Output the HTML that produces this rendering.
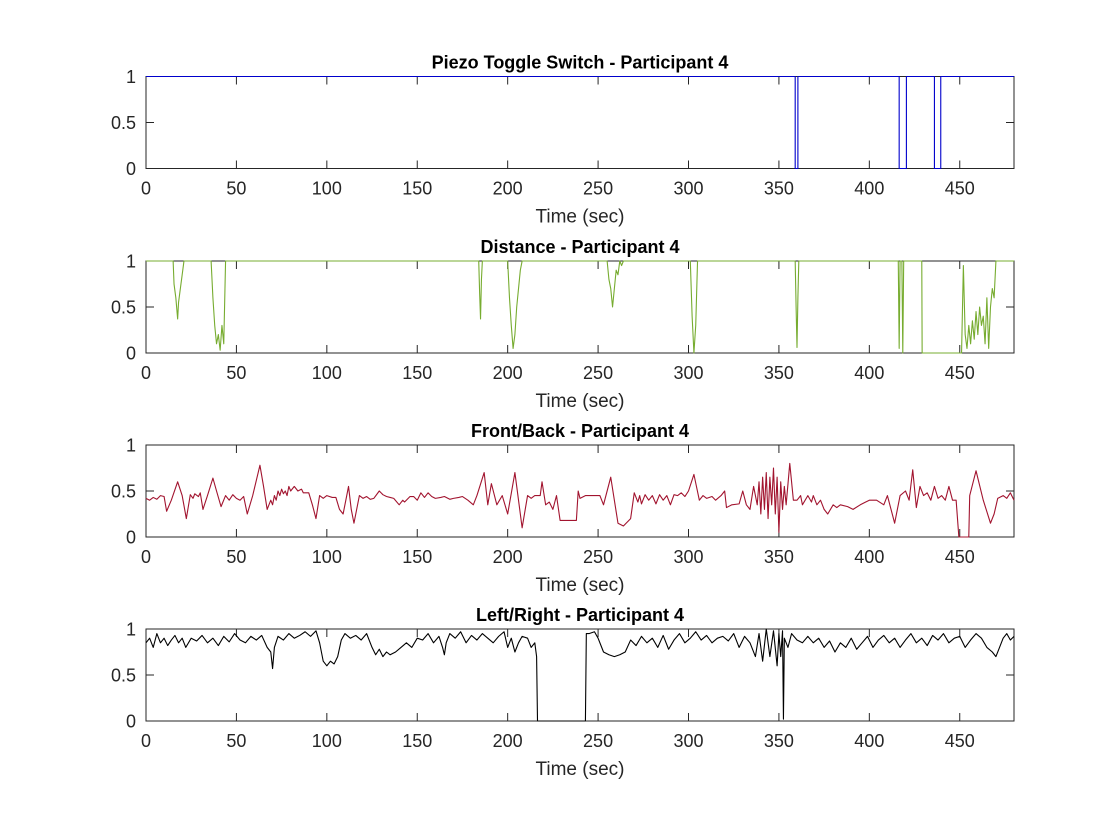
<!DOCTYPE html>
<html><head><meta charset="utf-8">
<style>
html,body{margin:0;padding:0;background:#fff;}
svg{display:block;font-family:"Liberation Sans",Arial,sans-serif;}
</style></head>
<body>
<svg id="fig" width="1120" height="840" viewBox="0 0 1120 840" xmlns="http://www.w3.org/2000/svg"></svg>
<script>
// ---- data ----
const xTicks = [0,50,100,150,200,250,300,350,400,450];
const yTicks = [0,0.5,1];
const titles = ["Piezo Toggle Switch - Participant 4","Distance - Participant 4","Front/Back - Participant 4","Left/Right - Participant 4"];
const colors = ["#0000cc","#77ac30","#a2142f","#000000"];

const piezoPts = [[0,1],[359,1],[359,0],[360.5,0],[360.5,1],[416.5,1],[416.5,0],[420.5,0],[420.5,1],[436,1],[436,0],[439.5,0],[439.5,1],[480,1]];

const distPts = [[0,1],[15,1],[15.5,0.75],[16.5,0.6],[17.5,0.37],[18,0.55],[19,0.7],[20,0.85],[21,1],
[36,1],[37,0.6],[38,0.3],[39,0.1],[40,0.2],[41,0.03],[42,0.3],[43,0.1],[44,1],
[184,1],[184.5,0.65],[185,0.37],[185.5,0.8],[186,1],
[200,1],[201,0.6],[202,0.3],[203,0.05],[204,0.2],[205,0.5],[206,0.7],[207,0.9],[208,1],
[255,1],[256,0.8],[257,0.7],[258,0.5],[259,0.7],[260,0.9],[261,0.85],[262,1],[263,0.95],[264,1],
[301,1],[302,0.4],[303,0],[304,0.3],[305,1],
[359,1],[359.5,0.5],[360,0.06],[360.5,0.6],[361,1],
[416,1],[416.5,0.05],[417,1],[418,1],[418.5,0],[419,1],[429,1],[429.2,0],[451,0],
[452,0.95],[453,0.2],[454,0.05],[455,0.3],[456,0.1],[457,0.35],[458,0.15],[459,0.45],[460,0.2],[461,0.5],[462,0.3],[463,0.4],[464,0.1],[465,0.6],[466,0.05],[467,0.5],[468,0.7],[469,0.6],[470,1],[480,1]];

const fbPts = [[0,0.42],[2,0.40],[4,0.43],[6,0.41],[8,0.45],[10,0.44],[11.4,0.28],[14,0.40],[17.5,0.60],[20,0.45],[22.3,0.20],[24.5,0.46],[26,0.42],[27,0.47],[29,0.44],[30,0.48],[31.5,0.30],[34,0.45],[37,0.64],[39,0.50],[41.5,0.33],[44,0.45],[46,0.40],[48,0.46],[50,0.42],[52,0.40],[54,0.44],[56,0.25],[59,0.45],[63,0.78],[65,0.55],[67,0.30],[69,0.40],[70,0.35],[71,0.45],[72,0.40],[73,0.50],[74,0.45],[75,0.52],[76,0.47],[77,0.50],[78,0.45],[79,0.55],[80,0.50],[82,0.55],[84,0.50],[86,0.52],[87,0.48],[90,0.48],[92,0.35],[94,0.20],[96,0.45],[98,0.42],[100,0.45],[103,0.43],[105,0.43],[107,0.30],[109,0.25],[111,0.45],[112,0.55],[113.5,0.30],[115,0.15],[118,0.45],[120,0.42],[122,0.44],[124,0.41],[126,0.42],[129,0.50],[131,0.46],[133,0.44],[135,0.43],[137,0.42],[140,0.35],[142,0.40],[143,0.38],[146,0.44],[148,0.44],[150,0.40],[152,0.48],[154,0.43],[156,0.48],[158,0.44],[160,0.42],[163,0.43],[165,0.44],[168,0.41],[170,0.42],[173,0.43],[175,0.44],[178,0.40],[181,0.35],[183,0.45],[187,0.70],[189,0.35],[191,0.58],[194,0.35],[197,0.45],[200,0.25],[204,0.70],[208,0.10],[211,0.45],[213,0.42],[215,0.45],[218,0.45],[219,0.60],[221,0.35],[223,0.38],[225,0.30],[227,0.45],[229,0.18],[233,0.18],[238,0.18],[239,0.50],[240,0.42],[243,0.45],[246,0.45],[249,0.45],[251,0.45],[253,0.35],[257,0.65],[261,0.15],[264,0.12],[268,0.20],[270,0.48],[272,0.38],[273,0.45],[274,0.36],[276,0.46],[278,0.40],[280,0.45],[282,0.36],[284,0.46],[286,0.40],[288,0.45],[290,0.35],[292,0.46],[294,0.45],[296,0.48],[298,0.44],[300,0.50],[303,0.68],[306,0.40],[308,0.45],[310,0.42],[313,0.44],[315,0.40],[318,0.45],[320,0.50],[321,0.32],[324,0.35],[328,0.36],[330,0.50],[332,0.35],[334,0.30],[336,0.55],[338,0.35],[339,0.60],[340,0.25],[341,0.65],[342,0.30],[343,0.70],[344,0.20],[345,0.65],[346,0.35],[347,0.75],[348,0.25],[349,0.65],[350,0.05],[351,0.60],[352,0.30],[353,0.55],[354,0.35],[356,0.80],[358,0.40],[360,0.40],[362,0.45],[363,0.35],[366,0.45],[368,0.38],[369,0.45],[371,0.35],[373,0.40],[375,0.30],[377,0.25],[380,0.35],[382,0.32],[384,0.35],[388,0.33],[391,0.30],[395,0.35],[398,0.38],[400,0.40],[404,0.40],[408,0.35],[410,0.45],[412,0.30],[414,0.15],[417,0.45],[420,0.50],[422,0.40],[424,0.73],[426,0.32],[428,0.55],[430,0.45],[432,0.48],[434,0.40],[436,0.55],[438,0.42],[440,0.45],[442,0.40],[444,0.55],[446,0.40],[448,0.40],[449.5,0],[455,0],[455.5,0.45],[459,0.72],[463,0.40],[467,0.15],[469,0.25],[471,0.42],[474,0.45],[476,0.42],[478,0.48],[480,0.40]];

const lrT = [0,2,4,6,8,10,12,14,16,18,20,22,25,28,31,34,37,40,43,46,49,52,55,58,61,64,67,69,70,71,73,76,79,82,85,88,91,94,96,98,100,102,104,106,108,110,113,116,119,122,125,127,129,131,133,135,138,141,144,147,150,153,156,159,162,164,165,166,168,171,174,177,180,183,186,189,192,195,198,200,202,204,206,208,211,213,215,216,216.5,243,243.5,245,248,250,253,256,259,262,265,268,271,274,277,280,283,286,289,292,295,298,301,304,307,310,313,316,319,322,325,328,331,334,337,339,341,343,345,347,349,350,351,352,352.5,353,355,357,360,363,366,369,372,375,378,381,384,387,390,393,396,399,402,405,408,411,414,417,420,423,426,429,432,435,438,441,444,447,450,453,456,459,462,465,468,470,472,474,476,478,480];
const lrV = [0.85,0.9,0.8,0.95,0.85,0.9,0.82,0.88,0.93,0.85,0.9,0.8,0.9,0.87,0.93,0.85,0.9,0.82,0.92,0.86,0.95,0.88,0.85,0.92,0.88,0.93,0.8,0.75,0.57,0.8,0.92,0.88,0.95,0.9,0.93,0.97,0.92,0.98,0.85,0.65,0.6,0.65,0.62,0.7,0.88,0.95,0.9,0.93,0.88,0.95,0.8,0.72,0.78,0.7,0.75,0.72,0.75,0.8,0.85,0.8,0.9,0.88,0.95,0.85,0.92,0.8,0.72,0.85,0.95,0.9,0.97,0.85,0.93,0.88,0.95,0.9,0.85,0.92,0.97,0.8,0.9,0.75,0.85,0.92,0.9,0.8,0.85,0.7,0,0,0.95,0.95,0.97,0.9,0.75,0.72,0.7,0.72,0.75,0.88,0.82,0.92,0.85,0.9,0.8,0.93,0.78,0.88,0.95,0.85,0.9,0.97,0.88,0.93,0.85,0.9,0.92,0.87,0.95,0.8,0.92,0.85,0.7,0.95,0.65,1,0.7,0.98,0.6,0.95,0.7,0.98,0.02,0.9,0.8,0.95,0.88,0.85,0.92,0.85,0.9,0.8,0.87,0.75,0.85,0.8,0.9,0.78,0.85,0.92,0.8,0.88,0.93,0.85,0.9,0.8,0.88,0.95,0.85,0.9,0.82,0.93,0.88,0.95,0.85,0.9,0.92,0.8,0.88,0.95,0.9,0.8,0.75,0.7,0.8,0.9,0.95,0.88,0.92];

const lrPts = lrT.map((t,k) => [t, lrV[k]]);
const seriesPts = [piezoPts, distPts, fbPts, lrPts];

// ---- drawing ----
const NS = "http://www.w3.org/2000/svg";
const svg = document.getElementById('fig');
const L = 146, R = 1014;
const tops = [76.5, 261, 445, 629];
const H = 92;
function mk(tag, attrs, parent){
  const e = document.createElementNS(NS, tag);
  for (const k in attrs) e.setAttribute(k, attrs[k]);
  (parent||svg).appendChild(e);
  return e;
}
function xs(t){ return L + (t/480)*(R-L); }
for (let i=0;i<4;i++){
  const top = tops[i], bot = top + H;
  const ys = v => bot - v*H;
  const g = mk('g', {});
  
  
  const box = mk('rect', {x:L, y:top, width:R-L, height:H, fill:'none', stroke:'#262626', 'stroke-width':1}, g);
  
  
  xTicks.forEach(t => {
    const x = xs(t);
    mk('line', {x1:x, x2:x, y1:bot, y2:bot-8, stroke:'#262626'}, g);
    mk('line', {x1:x, x2:x, y1:top, y2:top+8, stroke:'#262626'}, g);
    const tx = mk('text', {x:x, y:bot+26, 'font-size':18, 'text-anchor':'middle', fill:'#262626'}, g);
    tx.textContent = t;
    
    
  });
  yTicks.forEach(v => {
    const y = ys(v);
    mk('line', {x1:L, x2:L+8, y1:y, y2:y, stroke:'#262626'}, g);
    mk('line', {x1:R, x2:R-8, y1:y, y2:y, stroke:'#262626'}, g);
    const tx = mk('text', {x:L-10, y:y+6.5, 'font-size':18, 'text-anchor':'end', fill:'#262626'}, g);
    tx.textContent = v;
    
    
  });
  let d = '';
  const P = seriesPts[i];
  for (let k=0;k<P.length;k++) d += (k?'L':'M') + xs(P[k][0]).toFixed(2) + ' ' + ys(P[k][1]).toFixed(2);
  const p = mk('path', {d:d, fill:'none', stroke:colors[i], 'stroke-width':1.1, 'stroke-linejoin':'round'}, g);
  
  
  const xl = mk('text', {x:580, y:bot+54, 'font-size':19, 'text-anchor':'middle', fill:'#262626'}, g);
  xl.textContent = 'Time (sec)';
  
  
  const ti = mk('text', {x:580, y:top-8, 'font-size':18, 'font-weight':'bold', 'text-anchor':'middle', fill:'#000'}, g);
  ti.textContent = titles[i];
  
  
}
</script>
</body></html>
